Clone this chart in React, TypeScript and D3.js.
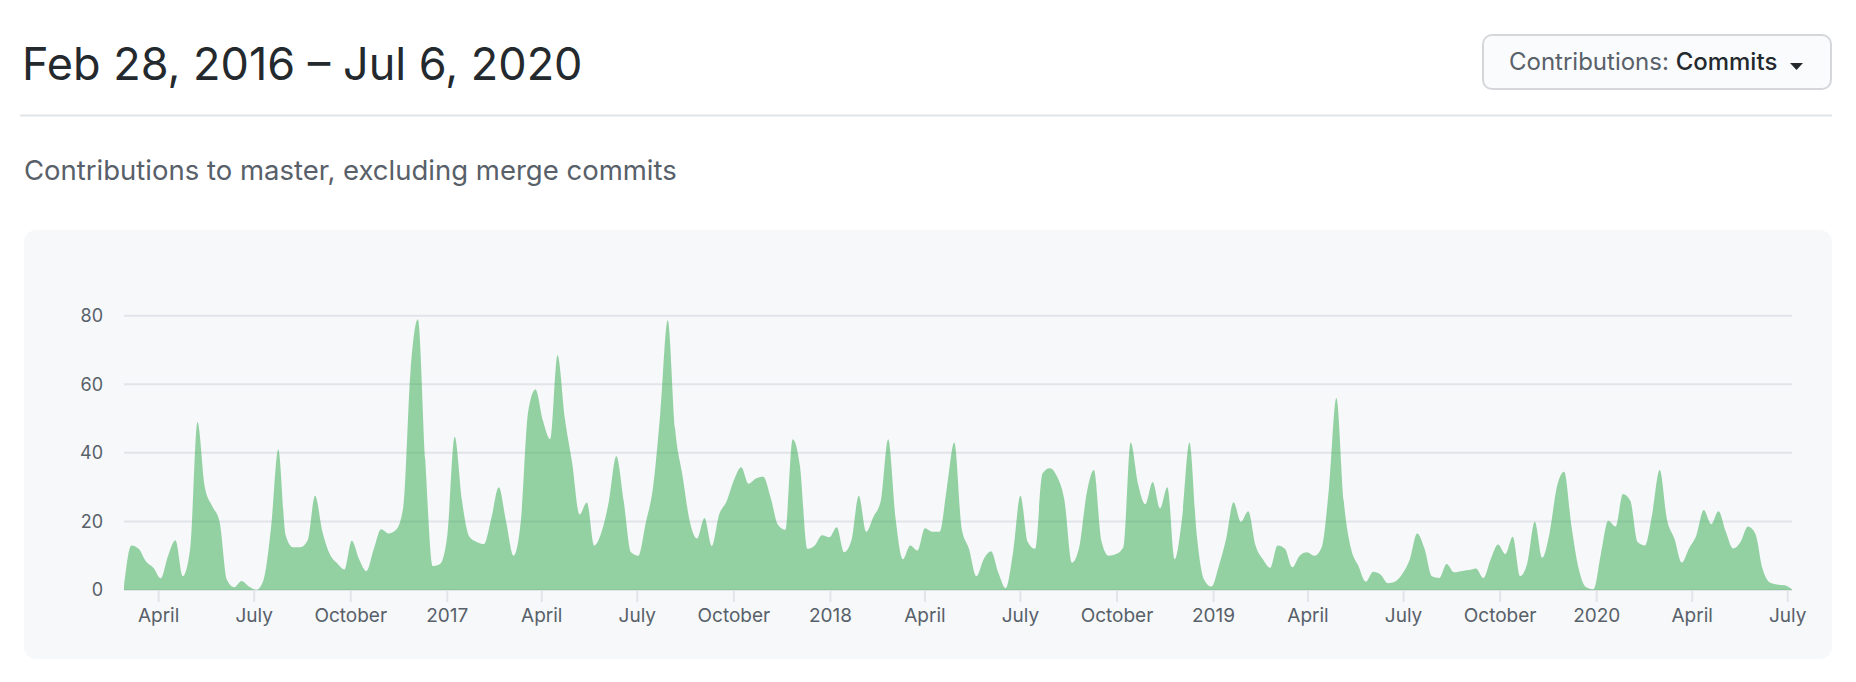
import * as d3 from "d3";

// weekly commit counts, one per week starting Sunday Feb 28 2016
const START = "2016-02-28";
const END = "2020-07-06";
const commits = [
  1, 13, 12, 8.3, 6.5, 3.4, 10, 14.5, 4, 12,
  49, 30, 24.5, 20, 3, 0.8, 2.6, 1, 0, 3,
  18, 41, 16, 12.5, 12.5, 14.5, 27.5, 17, 10.5, 7.8,
  6, 14.4, 9, 5.5, 12, 17.7, 16.5, 17.5, 24, 64,
  79, 38, 7, 7.6, 16, 44.7, 26, 15.5, 14, 13.4,
  21, 30, 20, 10, 20, 52, 58.5, 49.5, 44, 68.5,
  50, 37, 22, 25.5, 13, 17, 26, 39, 26, 11,
  10, 19.5, 30, 52, 78.7, 47, 33.5, 20, 15, 21,
  12.8, 22, 25.8, 32, 35.8, 31, 32.5, 33, 27, 19,
  17.5, 44, 36, 12, 13, 16, 15.4, 18.3, 11, 14.5,
  27.5, 17, 21.4, 26, 44, 21, 9, 13, 11.5, 18,
  17, 17, 30, 43, 18, 12, 4, 9, 11.3, 5,
  0.5, 11, 27.5, 14, 12, 34, 35.5, 33, 26, 8,
  12.5, 28, 35, 14.5, 10, 10.5, 12.5, 43, 31, 25,
  31.5, 23.8, 30, 9, 21, 43, 16, 3, 1, 7,
  15, 25.6, 19.9, 23, 13, 9, 6.5, 13, 12, 6.6,
  10, 11, 10, 12.5, 30, 56, 26, 12, 7, 2.4,
  5.3, 4.5, 2, 2.5, 4.8, 9, 16.5, 12, 4, 3.5,
  7.6, 5.2, 5.5, 5.8, 6.3, 3.5, 9, 13.3, 10.5, 15.5,
  4, 8, 19.9, 9.4, 16.5, 30, 34.5, 18.5, 6, 0.8,
  0.2, 10.5, 20.2, 18.5, 28, 26, 14, 13, 22.4, 35,
  20.5, 15, 8, 12.2, 16, 23.3, 19.2, 23, 17, 12.1,
  14, 18.5, 16.5, 6.2, 2.2, 1.6, 1.4, 0.2,
];
const yTicks = [0, 20, 40, 60, 80];

const title = "Feb 28, 2016 – Jul 6, 2020";
const subtitle = "Contributions to master, excluding merge commits";

const FONT = "Inter, 'Noto Sans', sans-serif";

export default function App() {
  const parse = d3.utcParse("%Y-%m-%d");
  const start = parse(START) as Date;
  const end = parse(END) as Date;
  const weeks = d3.utcWeek.range(start, end);
  const data = weeks.map((d, i) => ({ date: d, value: commits[i] ?? 0 }));

  const x = d3.scaleUtc().domain([start, end]).range([124, 1793]);
  const y = d3.scaleLinear().domain([0, 80]).range([590, 315.7]);

  const area = d3
    .area<{ date: Date; value: number }>()
    .x((d) => x(d.date))
    .y0(y(0))
    .y1((d) => y(d.value))
    .curve(d3.curveMonotoneX);

  const xTicks = x.ticks(d3.utcMonth.every(3) as d3.TimeInterval);
  const fmtTick = (d: Date) =>
    d.getUTCMonth() === 0 ? d3.utcFormat("%Y")(d) : d3.utcFormat("%B")(d);

  return (
    <svg
      width={1856}
      height={682}
      style={{ position: "absolute", left: 0, top: 0, background: "#fff" }}
      fontFamily={FONT}
    >
      {/* header */}
      <text x={22} y={80} fontSize={45} fill="#24292e">
        {title}
      </text>
      <line x1={20} x2={1832} y1={115.5} y2={115.5} stroke="#e1e4e8" strokeWidth={2} />

      <rect x={1483} y={35} width={348} height={54} rx={9} fill="#fafbfc" stroke="#d5d7da" strokeWidth={2} />
      <text x={1509} y={70} fontSize={24}>
        <tspan fill="#586069">Contributions: </tspan>
        <tspan fill="#24292e" fontWeight={500}>Commits</tspan>
      </text>
      <path d="M1790,63 L1803,63 L1796.5,70 Z" fill="#24292e" />

      <text x={24} y={180} fontSize={27.5} fill="#586069">
        {subtitle}
      </text>

      {/* chart panel */}
      <rect x={24} y={230} width={1808} height={429} rx={12} fill="#f6f8fa" />

      {yTicks.map((t) => (
        <g key={t}>
          <line x1={124} x2={1792} y1={y(t)} y2={y(t)} stroke="#e1e4e8" strokeWidth={2} />
          <text x={103} y={y(t)} dy="0.35em" textAnchor="end" fontSize={18} fill="#586069">
            {t}
          </text>
        </g>
      ))}

      {xTicks.map((t) => (
        <g key={t.toISOString()}>
          <line x1={x(t)} x2={x(t)} y1={591} y2={602} stroke="#e1e4e8" strokeWidth={2} />
          <text x={x(t)} y={622} textAnchor="middle" fontSize={19} fill="#586069">
            {fmtTick(t)}
          </text>
        </g>
      ))}

      <path d={area(data) ?? ""} fill="#28a745" fillOpacity={0.48} />
    </svg>
  );
}
